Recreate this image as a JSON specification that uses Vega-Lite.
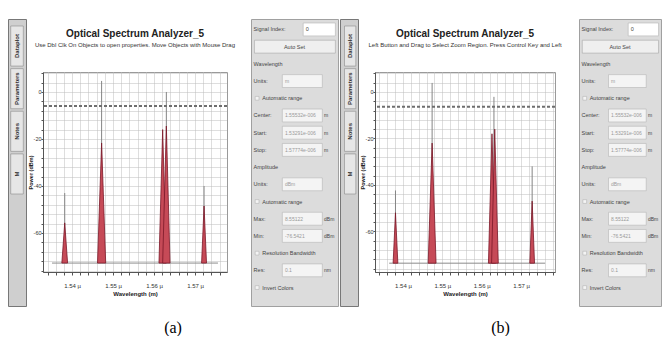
{
  "$schema": "https://vega.github.io/schema/vega-lite/v6.json",
  "background": "white",
  "padding": {"left": 7, "top": 18, "right": 0, "bottom": 0},
  "config": {
    "font": "Liberation Sans",
    "axis": {"labelFontSize": 6, "titleFontSize": 6, "labelColor": "#333", "titleColor": "#222", "titleFontWeight": "bold", "domainColor": "#555", "tickColor": "#555", "gridColor": "#bdbdbd", "gridDash": [1, 1], "labelFlush": false, "labelOverlap": false}
  },
  "datasets": {
    "panel": [
      {"order": 1, "label": "Signal Index:", "kind": "index", "value": "0", "unit": ""},
      {"order": 2, "label": "Auto Set", "kind": "button", "value": "", "unit": ""},
      {"order": 3, "label": "Wavelength", "kind": "header", "value": "", "unit": ""},
      {"order": 4, "label": "Units:", "kind": "select", "value": "m", "unit": ""},
      {"order": 5, "label": "Automatic range", "kind": "check", "value": "", "unit": ""},
      {"order": 6, "label": "Center:", "kind": "input", "value": "1.55532e-006", "unit": "m"},
      {"order": 7, "label": "Start:", "kind": "input", "value": "1.53291e-006", "unit": "m"},
      {"order": 8, "label": "Stop:", "kind": "input", "value": "1.57774e-006", "unit": "m"},
      {"order": 9, "label": "Amplitude", "kind": "header", "value": "", "unit": ""},
      {"order": 10, "label": "Units:", "kind": "select", "value": "dBm", "unit": ""},
      {"order": 11, "label": "Automatic range", "kind": "check", "value": "", "unit": ""},
      {"order": 12, "label": "Max:", "kind": "input", "value": "8.55122", "unit": "dBm"},
      {"order": 13, "label": "Min:", "kind": "input", "value": "-76.5421", "unit": "dBm"},
      {"order": 14, "label": "Resolution Bandwidth", "kind": "check", "value": "", "unit": ""},
      {"order": 15, "label": "Res:", "kind": "input", "value": "0.1", "unit": "nm"},
      {"order": 16, "label": "Invert Colors", "kind": "check", "value": "", "unit": ""}
    ],
    "tabs": [
      {"order": 1, "tab": "Dataplot"},
      {"order": 2, "tab": "Parameters"},
      {"order": 3, "tab": "Notes"},
      {"order": 4, "tab": "M"}
    ],
    "headA": [
      {"line": 1, "text": "Optical Spectrum Analyzer_5"},
      {"line": 2, "text": "Use Dbl Clk On Objects to open properties.  Move Objects with Mouse Drag"}
    ],
    "headB": [
      {"line": 1, "text": "Optical Spectrum Analyzer_5"},
      {"line": 2, "text": "Left Button and Drag to Select Zoom Region. Press Control Key and Left"}
    ],
    "peaksA": [
      {"wl": 1538.2, "peak": -43.0},
      {"wl": 1547.2, "peak": 4.7},
      {"wl": 1563.0, "peak": 0.0},
      {"wl": 1572.2, "peak": -40.0}
    ],
    "shapesA": [
      {"spike": "a1", "wl": 1537.5, "p": -72.8}, {"spike": "a1", "wl": 1538.2, "p": -55.7}, {"spike": "a1", "wl": 1538.9, "p": -72.8},
      {"spike": "a2", "wl": 1546.2, "p": -72.8}, {"spike": "a2", "wl": 1547.2, "p": -21.7}, {"spike": "a2", "wl": 1548.2, "p": -72.8},
      {"spike": "a3a", "wl": 1561.2, "p": -72.8}, {"spike": "a3a", "wl": 1562.1, "p": -16.0}, {"spike": "a3a", "wl": 1563.0, "p": -72.8},
      {"spike": "a3b", "wl": 1562.1, "p": -72.8}, {"spike": "a3b", "wl": 1563.0, "p": -14.5}, {"spike": "a3b", "wl": 1563.9, "p": -72.8},
      {"spike": "a4", "wl": 1571.6, "p": -72.8}, {"spike": "a4", "wl": 1572.2, "p": -48.5}, {"spike": "a4", "wl": 1572.8, "p": -72.8}
    ],
    "floorA": [{"wl": 1535.1, "p": -72.8}, {"wl": 1575.6, "p": -72.8}],
    "levelA": [{"level": -6.0}],
    "peaksB": [
      {"wl": 1538.1, "peak": -42.4},
      {"wl": 1547.4, "peak": 3.9},
      {"wl": 1563.1, "peak": -2.1},
      {"wl": 1572.8, "peak": -32.0}
    ],
    "shapesB": [
      {"spike": "b1", "wl": 1537.5, "p": -73.7}, {"spike": "b1", "wl": 1538.1, "p": -52.0}, {"spike": "b1", "wl": 1538.7, "p": -73.7},
      {"spike": "b2", "wl": 1546.4, "p": -73.7}, {"spike": "b2", "wl": 1547.4, "p": -22.0}, {"spike": "b2", "wl": 1548.4, "p": -73.7},
      {"spike": "b3a", "wl": 1561.7, "p": -73.7}, {"spike": "b3a", "wl": 1562.6, "p": -18.0}, {"spike": "b3a", "wl": 1563.5, "p": -73.7},
      {"spike": "b3b", "wl": 1562.5, "p": -73.7}, {"spike": "b3b", "wl": 1563.3, "p": -16.0}, {"spike": "b3b", "wl": 1564.2, "p": -73.7},
      {"spike": "b4", "wl": 1572.2, "p": -73.7}, {"spike": "b4", "wl": 1572.8, "p": -47.0}, {"spike": "b4", "wl": 1573.4, "p": -73.7}
    ],
    "floorB": [{"wl": 1536.5, "p": -73.7}, {"wl": 1576.1, "p": -73.7}],
    "levelB": [{"level": -6.4}]
  },
  "spacing": 0,
  "hconcat": [
    {
      "title": {"text": "(a)", "orient": "bottom", "font": "Liberation Serif", "fontSize": 16, "fontWeight": "normal", "color": "#000", "offset": 13, "anchor": "middle"},
      "spacing": 14,
      "hconcat": [
        {
          "spacing": 0,
          "hconcat": [
            {
              "width": 18, "height": 287,
              "view": {"fill": "#cfcfcf", "stroke": "#777"},
              "data": {"name": "tabs"},
              "encoding": {"y": {"field": "order", "type": "ordinal", "axis": null, "scale": {"range": [7, 175], "paddingInner": 0.06, "paddingOuter": 0}}},
              "layer": [
                {"mark": {"type": "rect", "fill": "#e6e6e6", "stroke": "#8a8a8a", "strokeWidth": 0.6},
                 "encoding": {"x": {"datum": 0.15, "type": "quantitative", "scale": {"domain": [0, 1]}, "axis": null}, "x2": {"datum": 0.85}}},
                {"mark": {"type": "text", "angle": 270, "fontSize": 6, "color": "#333", "fontWeight": "bold"},
                 "encoding": {"x": {"datum": 0.5, "type": "quantitative"}, "text": {"field": "tab"}}}
              ]
            },
            {
              "spacing": 11,
              "vconcat": [
                {
                  "width": 184, "height": 40,
                  "view": {"stroke": null},
                  "data": {"name": "headA"},
                  "encoding": {"y": {"field": "line", "type": "ordinal", "axis": null, "scale": {"type": "point", "range": [15, 26], "padding": 0}}, "x": {"datum": 0.5, "type": "quantitative", "scale": {"domain": [0, 1]}, "axis": null}},
                  "layer": [
                    {"transform": [{"filter": "datum.line == 1"}], "mark": {"type": "text", "fontSize": 10, "fontWeight": "bold", "color": "#222"}, "encoding": {"text": {"field": "text"}}},
                    {"transform": [{"filter": "datum.line == 2"}], "mark": {"type": "text", "fontSize": 6, "color": "#333"}, "encoding": {"text": {"field": "text"}}}
                  ]
                },
                {
                  "width": 184, "height": 200,
                  "view": {"stroke": "#9a9a9a"},
                  "layer": [
                    {"data": {"name": "floorA"}, "mark": {"type": "line", "color": "#8c8c8c", "strokeWidth": 1},
                     "encoding": {
                       "x": {"field": "wl", "type": "quantitative", "scale": {"domain": [1532.9, 1577.8], "nice": false, "zero": false},
                             "axis": {"values": [1534,1536,1538,1540,1542,1544,1546,1548,1550,1552,1554,1556,1558,1560,1562,1564,1566,1568,1570,1572,1574,1576], "tickCount": 200, "labelExpr": "datum.value % 10 == 0 ? format(datum.value / 1000, '.2f') + ' µ' : ''", "labelOverlap": false, "grid": true, "tickSize": 3, "labelPadding": 7, "title": "Wavelength (m)", "titlePadding": 2}},
                       "y": {"field": "p", "type": "quantitative", "scale": {"domain": [-76.6, 8.5], "nice": false, "zero": false},
                             "axis": {"values": [-76,-72,-68,-64,-60,-56,-52,-48,-44,-40,-36,-32,-28,-24,-20,-16,-12,-8,-4,0,4,8], "tickCount": 200, "labelExpr": "datum.value % 20 == 0 ? '' + datum.value : ''", "labelOverlap": false, "grid": true, "tickSize": 2, "labelPadding": 0, "labelFontSize": 5.5, "title": "Power (dBm)", "titleFontSize": 5.5, "titlePadding": 0}}
                     }},
                    {"data": {"name": "peaksA"}, "mark": {"type": "rule", "color": "#858585", "strokeWidth": 1},
                     "encoding": {"x": {"field": "wl", "type": "quantitative"}, "y": {"field": "peak", "type": "quantitative"}, "y2": {"datum": -72.8}}},
                    {"data": {"name": "shapesA"}, "mark": {"type": "area", "color": "#c64a57", "stroke": "#7a1828", "strokeWidth": 0.8, "opacity": 1},
                     "encoding": {"x": {"field": "wl", "type": "quantitative"}, "y": {"field": "p", "type": "quantitative"}, "y2": {"datum": -72.8}, "detail": {"field": "spike"}}},
                    {"data": {"name": "levelA"}, "mark": {"type": "rule", "color": "#6e6e6e", "strokeWidth": 2, "strokeDash": [3, 2]},
                     "encoding": {"y": {"field": "level", "type": "quantitative"}}}
                  ]
                }
              ]
            }
          ]
        },
        {
          "width": 87, "height": 287,
          "view": {"fill": "#dcdcdc", "stroke": "#a0a0a0"},
          "data": {"name": "panel"},
          "encoding": {"y": {"field": "order", "type": "ordinal", "axis": null, "scale": {"range": [4, 275], "paddingInner": 0.25, "paddingOuter": 0}}},
          "layer": [
            {"transform": [{"filter": "datum.kind == 'input' || datum.kind == 'select'"}], "mark": {"type": "rect", "fill": "#f4f4f4", "stroke": "#b5b5b5", "strokeWidth": 0.6},
             "encoding": {"x": {"datum": 0.36, "type": "quantitative", "scale": {"domain": [0, 1]}, "axis": null}, "x2": {"datum": 0.82}}},
            {"transform": [{"filter": "datum.kind == 'index'"}], "mark": {"type": "rect", "fill": "#ffffff", "stroke": "#b5b5b5", "strokeWidth": 0.6},
             "encoding": {"x": {"datum": 0.6, "type": "quantitative"}, "x2": {"datum": 0.97}}},
            {"transform": [{"filter": "datum.kind == 'button'"}], "mark": {"type": "rect", "fill": "#efefef", "stroke": "#a8a8a8", "strokeWidth": 0.6},
             "encoding": {"x": {"datum": 0.04, "type": "quantitative"}, "x2": {"datum": 0.97}}},
            {"transform": [{"filter": "datum.kind == 'check'"}], "mark": {"type": "point", "shape": "square", "filled": true, "color": "#ffffff", "stroke": "#999", "strokeWidth": 0.5, "size": 14},
             "encoding": {"x": {"datum": 0.07, "type": "quantitative"}}},
            {"transform": [{"filter": "datum.kind != 'button' && datum.kind != 'check'"}], "mark": {"type": "text", "align": "left", "fontSize": 5.5, "color": "#444"},
             "encoding": {"x": {"datum": 0.03, "type": "quantitative"}, "text": {"field": "label"}}},
            {"transform": [{"filter": "datum.kind == 'check'"}], "mark": {"type": "text", "align": "left", "fontSize": 5.5, "color": "#444"},
             "encoding": {"x": {"datum": 0.13, "type": "quantitative"}, "text": {"field": "label"}}},
            {"transform": [{"filter": "datum.kind == 'button'"}], "mark": {"type": "text", "align": "center", "fontSize": 5.5, "color": "#444"},
             "encoding": {"x": {"datum": 0.5, "type": "quantitative"}, "text": {"field": "label"}}},
            {"transform": [{"filter": "datum.kind == 'input' || datum.kind == 'select'"}], "mark": {"type": "text", "align": "left", "fontSize": 5, "color": "#9a9a9a"},
             "encoding": {"x": {"datum": 0.39, "type": "quantitative"}, "text": {"field": "value"}}},
            {"transform": [{"filter": "datum.kind == 'index'"}], "mark": {"type": "text", "align": "left", "fontSize": 5.5, "color": "#444"},
             "encoding": {"x": {"datum": 0.63, "type": "quantitative"}, "text": {"field": "value"}}},
            {"transform": [{"filter": "datum.unit != ''"}], "mark": {"type": "text", "align": "left", "fontSize": 5, "color": "#444"},
             "encoding": {"x": {"datum": 0.84, "type": "quantitative"}, "text": {"field": "unit"}}}
          ]
        }
      ]
    },
    {
      "title": {"text": "(b)", "orient": "bottom", "font": "Liberation Serif", "fontSize": 16, "fontWeight": "normal", "color": "#000", "offset": 13, "anchor": "middle"},
      "spacing": 16,
      "hconcat": [
        {
          "spacing": 0,
          "hconcat": [
            {
              "width": 18, "height": 287,
              "view": {"fill": "#cfcfcf", "stroke": "#777"},
              "data": {"name": "tabs"},
              "encoding": {"y": {"field": "order", "type": "ordinal", "axis": null, "scale": {"range": [7, 175], "paddingInner": 0.06, "paddingOuter": 0}}},
              "layer": [
                {"mark": {"type": "rect", "fill": "#e6e6e6", "stroke": "#8a8a8a", "strokeWidth": 0.6},
                 "encoding": {"x": {"datum": 0.25, "type": "quantitative", "scale": {"domain": [0, 1]}, "axis": null}, "x2": {"datum": 0.88}}},
                {"mark": {"type": "text", "angle": 270, "fontSize": 6, "color": "#333", "fontWeight": "bold"},
                 "encoding": {"x": {"datum": 0.57, "type": "quantitative"}, "text": {"field": "tab"}}}
              ]
            },
            {
              "spacing": 11,
              "vconcat": [
                {
                  "width": 180, "height": 40,
                  "view": {"stroke": null},
                  "data": {"name": "headB"},
                  "encoding": {"y": {"field": "line", "type": "ordinal", "axis": null, "scale": {"type": "point", "range": [15, 26], "padding": 0}}, "x": {"datum": 0.5, "type": "quantitative", "scale": {"domain": [0, 1]}, "axis": null}},
                  "layer": [
                    {"transform": [{"filter": "datum.line == 1"}], "mark": {"type": "text", "fontSize": 10, "fontWeight": "bold", "color": "#222"}, "encoding": {"text": {"field": "text"}}},
                    {"transform": [{"filter": "datum.line == 2"}], "mark": {"type": "text", "fontSize": 6, "color": "#333"}, "encoding": {"text": {"field": "text"}}}
                  ]
                },
                {
                  "width": 180, "height": 200,
                  "view": {"stroke": "#9a9a9a"},
                  "layer": [
                    {"data": {"name": "floorB"}, "mark": {"type": "line", "color": "#8c8c8c", "strokeWidth": 1},
                     "encoding": {
                       "x": {"field": "wl", "type": "quantitative", "scale": {"domain": [1532.9, 1578.6], "nice": false, "zero": false},
                             "axis": {"values": [1534,1536,1538,1540,1542,1544,1546,1548,1550,1552,1554,1556,1558,1560,1562,1564,1566,1568,1570,1572,1574,1576,1578], "tickCount": 200, "labelExpr": "datum.value % 10 == 0 ? format(datum.value / 1000, '.2f') + ' µ' : ''", "labelOverlap": false, "grid": true, "tickSize": 3, "labelPadding": 7, "title": "Wavelength (m)", "titlePadding": 2}},
                       "y": {"field": "p", "type": "quantitative", "scale": {"domain": [-77.5, 8.6], "nice": false, "zero": false},
                             "axis": {"values": [-76,-72,-68,-64,-60,-56,-52,-48,-44,-40,-36,-32,-28,-24,-20,-16,-12,-8,-4,0,4,8], "tickCount": 200, "labelExpr": "datum.value % 20 == 0 ? '' + datum.value : ''", "labelOverlap": false, "grid": true, "tickSize": 2, "labelPadding": 0, "labelFontSize": 5.5, "title": "Power (dBm)", "titleFontSize": 5.5, "titlePadding": 0}}
                     }},
                    {"data": {"name": "peaksB"}, "mark": {"type": "rule", "color": "#858585", "strokeWidth": 1},
                     "encoding": {"x": {"field": "wl", "type": "quantitative"}, "y": {"field": "peak", "type": "quantitative"}, "y2": {"datum": -73.7}}},
                    {"data": {"name": "shapesB"}, "mark": {"type": "area", "color": "#c64a57", "stroke": "#7a1828", "strokeWidth": 0.8, "opacity": 1},
                     "encoding": {"x": {"field": "wl", "type": "quantitative"}, "y": {"field": "p", "type": "quantitative"}, "y2": {"datum": -73.7}, "detail": {"field": "spike"}}},
                    {"data": {"name": "levelB"}, "mark": {"type": "rule", "color": "#6e6e6e", "strokeWidth": 2, "strokeDash": [3, 2]},
                     "encoding": {"y": {"field": "level", "type": "quantitative"}}}
                  ]
                }
              ]
            }
          ]
        },
        {
          "width": 82, "height": 287,
          "view": {"fill": "#dcdcdc", "stroke": "#a0a0a0"},
          "data": {"name": "panel"},
          "encoding": {"y": {"field": "order", "type": "ordinal", "axis": null, "scale": {"range": [4, 275], "paddingInner": 0.25, "paddingOuter": 0}}},
          "layer": [
            {"transform": [{"filter": "datum.kind == 'input' || datum.kind == 'select'"}], "mark": {"type": "rect", "fill": "#f4f4f4", "stroke": "#b5b5b5", "strokeWidth": 0.6},
             "encoding": {"x": {"datum": 0.36, "type": "quantitative", "scale": {"domain": [0, 1]}, "axis": null}, "x2": {"datum": 0.82}}},
            {"transform": [{"filter": "datum.kind == 'index'"}], "mark": {"type": "rect", "fill": "#ffffff", "stroke": "#b5b5b5", "strokeWidth": 0.6},
             "encoding": {"x": {"datum": 0.6, "type": "quantitative"}, "x2": {"datum": 0.97}}},
            {"transform": [{"filter": "datum.kind == 'button'"}], "mark": {"type": "rect", "fill": "#efefef", "stroke": "#a8a8a8", "strokeWidth": 0.6},
             "encoding": {"x": {"datum": 0.04, "type": "quantitative"}, "x2": {"datum": 0.97}}},
            {"transform": [{"filter": "datum.kind == 'check'"}], "mark": {"type": "point", "shape": "square", "filled": true, "color": "#ffffff", "stroke": "#999", "strokeWidth": 0.5, "size": 14},
             "encoding": {"x": {"datum": 0.07, "type": "quantitative"}}},
            {"transform": [{"filter": "datum.kind != 'button' && datum.kind != 'check'"}], "mark": {"type": "text", "align": "left", "fontSize": 5.5, "color": "#444"},
             "encoding": {"x": {"datum": 0.03, "type": "quantitative"}, "text": {"field": "label"}}},
            {"transform": [{"filter": "datum.kind == 'check'"}], "mark": {"type": "text", "align": "left", "fontSize": 5.5, "color": "#444"},
             "encoding": {"x": {"datum": 0.13, "type": "quantitative"}, "text": {"field": "label"}}},
            {"transform": [{"filter": "datum.kind == 'button'"}], "mark": {"type": "text", "align": "center", "fontSize": 5.5, "color": "#444"},
             "encoding": {"x": {"datum": 0.5, "type": "quantitative"}, "text": {"field": "label"}}},
            {"transform": [{"filter": "datum.kind == 'input' || datum.kind == 'select'"}], "mark": {"type": "text", "align": "left", "fontSize": 5, "color": "#9a9a9a"},
             "encoding": {"x": {"datum": 0.39, "type": "quantitative"}, "text": {"field": "value"}}},
            {"transform": [{"filter": "datum.kind == 'index'"}], "mark": {"type": "text", "align": "left", "fontSize": 5.5, "color": "#444"},
             "encoding": {"x": {"datum": 0.63, "type": "quantitative"}, "text": {"field": "value"}}},
            {"transform": [{"filter": "datum.unit != ''"}], "mark": {"type": "text", "align": "left", "fontSize": 5, "color": "#444"},
             "encoding": {"x": {"datum": 0.84, "type": "quantitative"}, "text": {"field": "unit"}}}
          ]
        }
      ]
    }
  ]
}
